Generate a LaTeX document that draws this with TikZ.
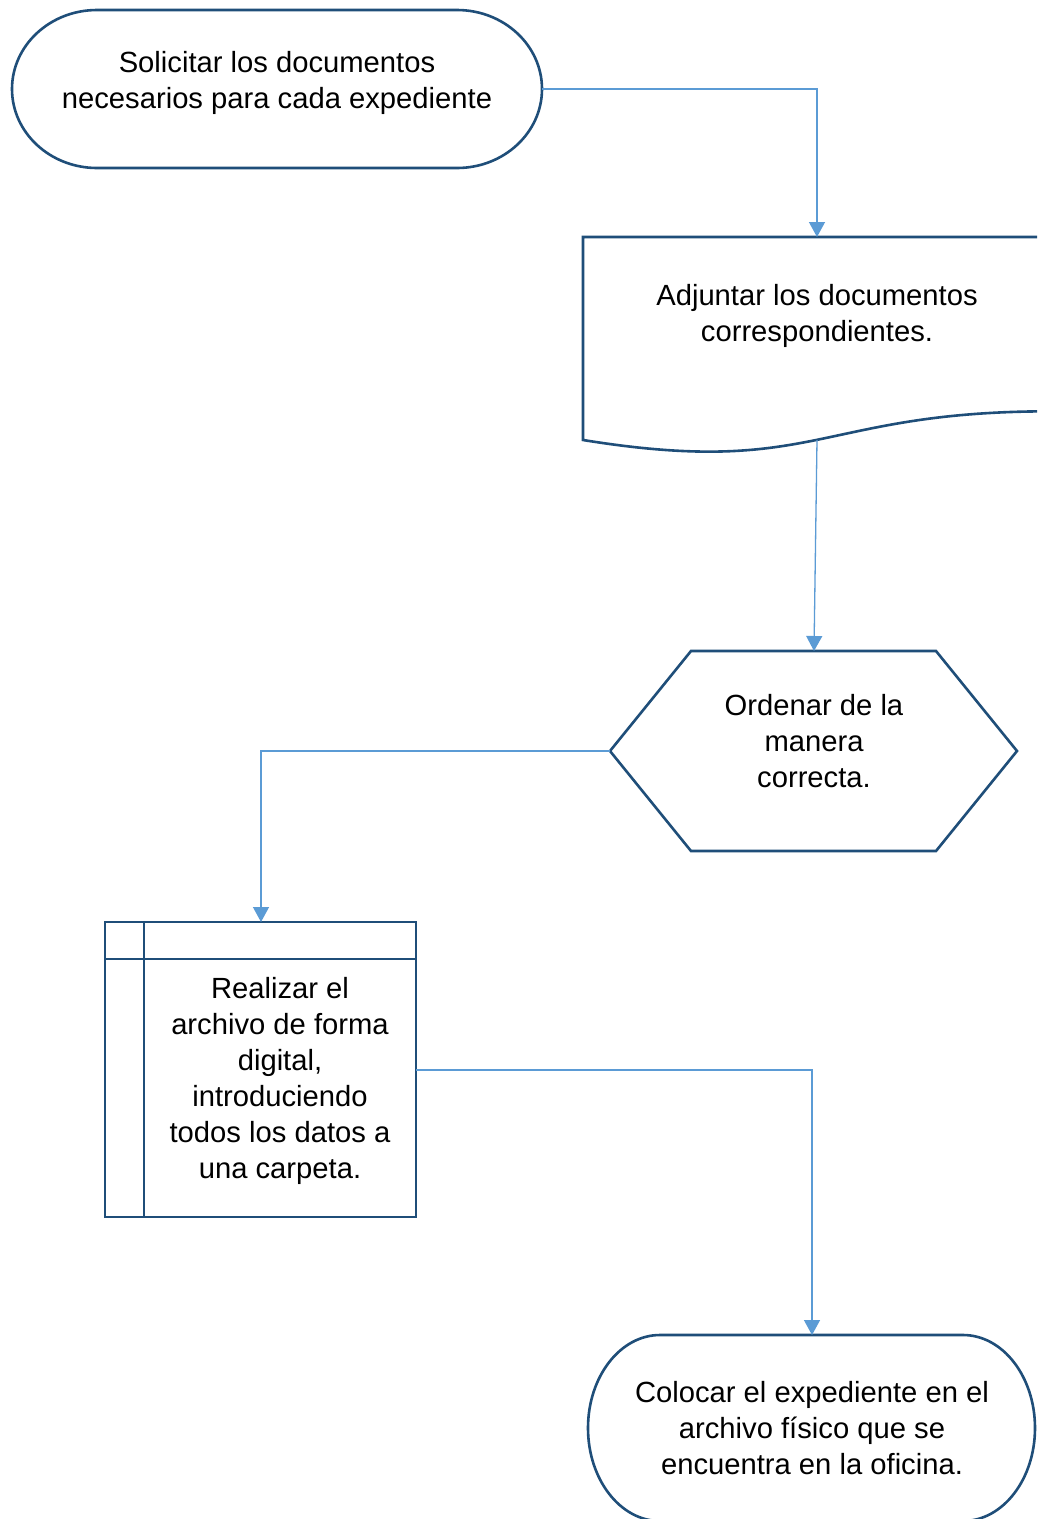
\documentclass[tikz,border=0pt]{standalone}
\usepackage{fontspec}
\setmainfont{Liberation Sans}
\usetikzlibrary{arrows.meta}
\definecolor{shapeblue}{RGB}{31,78,121}
\definecolor{linkblue}{RGB}{91,155,213}
\tikzset{
  shapeline/.style={draw=shapeblue, line width=2.6pt, line join=miter},
  link/.style={draw=linkblue, line width=1.3pt, -{Triangle[width=16pt,length=15pt]}},
  label/.style={inner sep=0pt, align=center, font=\fontsize{29.2}{36}\selectfont, text=black},
}
\begin{document}
\begin{tikzpicture}[x=1pt,y=1pt]
\useasboundingbox (0,0) rectangle (1037,-1519);
\clip (0,0) rectangle (1037,-1519);
\fill[white] (0,0) rectangle (1037,-1519);

% Terminator 1
\draw[shapeline] (97,-10) -- (457,-10) arc[start angle=90,end angle=-90,x radius=85,y radius=79]
  -- (97,-168) arc[start angle=270,end angle=90,x radius=85,y radius=79] -- cycle;
\node[label] (t1) at (277,-83) {Solicitar los documentos\\necesarios para cada expediente};
\coordinate (t1e) at (542,-89);

% Document
\draw[shapeline] (583,-237) -- (1051,-237) -- (1051,-411.3)
  .. controls (817,-411.3) and (817,-477.8) .. (583,-440) -- cycle;
\node[label] (t2) at (817,-316) {Adjuntar los documentos\\correspondientes.};
\coordinate (t2n) at (817,-237);
\coordinate (t2s) at (817,-440);

% Hexagon
\draw[shapeline] (691,-651) -- (936,-651) -- (1017,-751) -- (936,-851) -- (691,-851) -- (610,-751) -- cycle;
\node[label] (t3) at (814,-741) {Ordenar de la\\manera\\correcta.};
\coordinate (t3n) at (814,-651);
\coordinate (t3w) at (610,-751);

% Internal storage
\draw[shapeline] (105,-922) rectangle (416,-1217);
\draw[shapeline] (144,-922) -- (144,-1217);
\draw[shapeline] (105,-959) -- (416,-959);
\node[label] (t4) at (280,-1081) {Realizar el\\archivo de forma\\digital,\\introduciendo\\todos los datos a\\una carpeta.};
\coordinate (t4n) at (261,-922);
\coordinate (t4e) at (416,-1070);

% Terminator 2
\draw[shapeline] (660,-1335) -- (963,-1335) arc[start angle=90,end angle=-90,x radius=72,y radius=93]
  -- (660,-1521) arc[start angle=270,end angle=90,x radius=72,y radius=93] -- cycle;
\node[label] (t5) at (812,-1428) {Colocar el expediente en el\\archivo físico que se\\encuentra en la oficina.};
\coordinate (t5n) at (812,-1335);

% Connectors
\draw[link] (t1e) -| (t2n);
\draw[link] (t2s) -- (t3n);
\draw[link] (t3w) -| (t4n);
\draw[link] (t4e) -| (t5n);
\end{tikzpicture}
\end{document}
